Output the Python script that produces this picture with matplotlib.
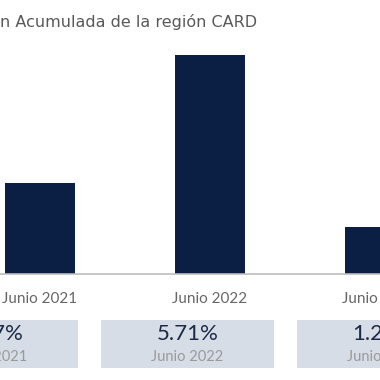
import matplotlib
matplotlib.use("Agg")
import matplotlib.pyplot as plt
from matplotlib.patches import Rectangle

NAVY, BOX, GREY, LINE = "#0b1f45", "#d6dde6", "#8a8a8a", "#bdbdbd"

title = "Inflación Acumulada de la región CARD"
periods = ["Junio 2021", "Junio 2022", "Junio 2023"]
values = [2.37, 5.71, 1.23]

W = H = 380
plt.rcParams.update({"font.family": ["Lato", "DejaVu Sans"]})
fig = plt.figure(figsize=(3.8, 3.8), dpi=100)

# bar axes: bar centres at 40, 211, 382 px; baseline at y=274 px
pitch = 171
x0 = 40
ax = fig.add_axes([0, 1 - 274 / H, 1, (274 - 25) / H])
ax.bar(range(len(values)), values, width=70 / pitch, color=NAVY)
ax.set_xlim(-x0 / pitch, (W - x0) / pitch)
ax.set_ylim(0, 249 / (219 / 5.71))
for s in ("top", "right", "left"):
    ax.spines[s].set_visible(False)
ax.spines["bottom"].set_color(LINE)
ax.spines["bottom"].set_linewidth(1.2)
ax.set_yticks([])
ax.set_xticks(range(len(periods)))
ax.set_xticklabels(periods, fontsize=11, color="#666666")
ax.tick_params(axis="x", length=0, pad=13)

fig.text(257 / W, 1 - 22 / H, title, ha="right", va="center",
         fontsize=11.5, color="#595959", family="DejaVu Sans")

# summary boxes: centres at -8.5, 187.5, 383.5 px, y 320..368 px
bpitch = 196
b0 = -8.5
bx = fig.add_axes([0, 1 - 368 / H, 1, 48 / H])
bx.set_xlim(-b0 / bpitch, (W - b0) / bpitch)
bx.set_ylim(0, 1)
bx.axis("off")
bw = 173 / bpitch
for i, (p, v) in enumerate(zip(periods, values)):
    bx.add_patch(Rectangle((i - bw / 2, 0), bw, 1, color=BOX, lw=0))
    bx.text(i, 0.71, f"{v:.2f}%", ha="center", va="center",
            fontsize=16, color="#1b2a47")
    bx.text(i, 0.22, p, ha="center", va="center", fontsize=10.5, color="#9a9a9a")

fig.savefig("out.png", dpi=100)
